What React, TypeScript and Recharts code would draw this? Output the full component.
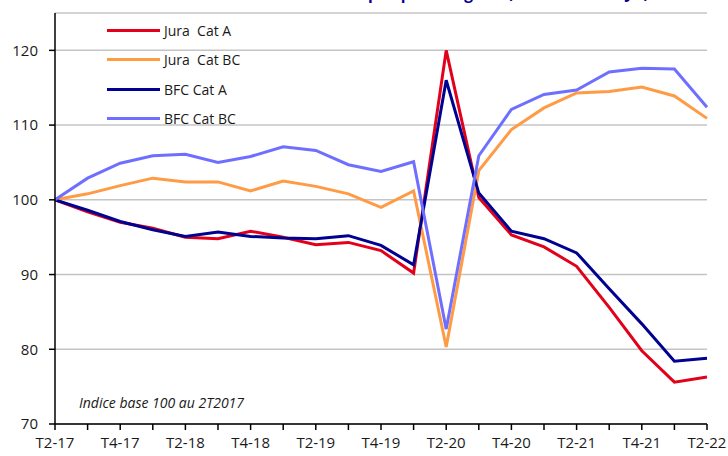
import React from 'react';
import { CartesianGrid, Line, LineChart, XAxis, YAxis } from 'recharts';

const quarters = [
  'T2-17', 'T3-17', 'T4-17', 'T1-18', 'T2-18', 'T3-18', 'T4-18', 'T1-19', 'T2-19', 'T3-19',
  'T4-19', 'T1-20', 'T2-20', 'T3-20', 'T4-20', 'T1-21', 'T2-21', 'T3-21', 'T4-21', 'T1-22', 'T2-22'
];

const juraCatA = [100, 98.4, 97.0, 96.2, 95.0, 94.8, 95.8, 95.0, 94.0, 94.3, 93.2, 90.2, 120.0, 100.3, 95.3, 93.7, 91.1, 85.6, 79.8, 75.6, 76.3];
const juraCatBC = [100, 100.8, 101.9, 102.9, 102.4, 102.4, 101.2, 102.5, 101.8, 100.8, 99.0, 101.2, 80.3, 103.9, 109.4, 112.3, 114.3, 114.5, 115.1, 113.9, 110.9];
const bfcCatA = [100, 98.6, 97.1, 96.0, 95.1, 95.7, 95.1, 94.9, 94.8, 95.2, 93.9, 91.3, 116.0, 100.9, 95.8, 94.8, 92.9, 88.1, 83.4, 78.4, 78.8];
const bfcCatBC = [100, 102.9, 104.9, 105.9, 106.1, 105.0, 105.8, 107.1, 106.6, 104.7, 103.8, 105.1, 82.7, 105.9, 112.1, 114.1, 114.7, 117.1, 117.6, 117.5, 112.4];

const yTicks = [70, 80, 90, 100, 110, 120];

const series = [
  { key: 'juraA', name: 'Jura  Cat A', color: '#e2001a' },
  { key: 'juraBC', name: 'Jura  Cat BC', color: '#ff9a45' },
  { key: 'bfcA', name: 'BFC Cat A', color: '#000091' },
  { key: 'bfcBC', name: 'BFC Cat BC', color: '#6f6fff' }
];

const data = quarters.map((q, i) => ({
  q,
  juraA: juraCatA[i],
  juraBC: juraCatBC[i],
  bfcA: bfcCatA[i],
  bfcBC: bfcCatBC[i]
}));

const font = '"Open Sans", sans-serif';

function QuarterTick(props: any) {
  const { x, y, payload, index } = props;
  return (
    <g>
      <line x1={x} x2={x} y1={y - 8} y2={y - 2} stroke="#000" strokeWidth={1.5} />
      {index % 2 === 0 && (
        <text x={x} y={y + 16} textAnchor="middle" fill="#1a1a1a" fontSize={15} fontFamily={font}>
          {payload.value}
        </text>
      )}
    </g>
  );
}

export default function App() {
  return (
    <div style={{ position: 'absolute', left: 0, top: 0, width: 728, height: 456, overflow: 'hidden', background: '#fff' }}>
      <div
        style={{
          position: 'absolute',
          top: -17,
          left: 120,
          fontFamily: font,
          fontWeight: 700,
          fontSize: 15.5,
          lineHeight: '20px',
          color: '#000091',
          whiteSpace: 'nowrap'
        }}
      >
        Évolution des demandeurs d'emploi par catégorie (données CVS-CJO)
      </div>

      <LineChart width={728} height={456} data={data} margin={{ top: 13, right: 21, bottom: 0, left: 0 }}>
        <CartesianGrid horizontal vertical={false} stroke="#c4c4c4" strokeWidth={1.5} />
        <XAxis
          dataKey="q"
          interval={0}
          height={32}
          axisLine={{ stroke: '#000', strokeWidth: 1.5 }}
          tickLine={false}
          tick={<QuarterTick />}
        />
        <YAxis
          domain={[70, 125]}
          ticks={yTicks}
          width={55}
          axisLine={{ stroke: '#000', strokeWidth: 1.5 }}
          tickLine={{ stroke: '#000', strokeWidth: 1.5 }}
          tickSize={6}
          tick={{ fill: '#1a1a1a', fontSize: 15, fontFamily: font, dx: -9 }}
        />
        {series.map((s) => (
          <Line
            key={s.key}
            type="linear"
            dataKey={s.key}
            name={s.name}
            stroke={s.color}
            strokeWidth={3}
            dot={false}
            isAnimationActive={false}
          />
        ))}
      </LineChart>

      <div style={{ position: 'absolute', left: 107, top: 16, fontFamily: font, fontSize: 14, color: '#1a1a1a' }}>
        {series.map((s) => (
          <div key={s.key} style={{ display: 'flex', alignItems: 'center', height: 29.3 }}>
            <div style={{ width: 53, height: 3, background: s.color, marginRight: 4 }} />
            <span style={{ whiteSpace: 'pre' }}>{s.name}</span>
          </div>
        ))}
      </div>

      <div
        style={{
          position: 'absolute',
          left: 79,
          top: 393,
          fontFamily: font,
          fontStyle: 'italic',
          fontSize: 14,
          color: '#1a1a1a'
        }}
      >
        Indice base 100 au 2T2017
      </div>
    </div>
  );
}
